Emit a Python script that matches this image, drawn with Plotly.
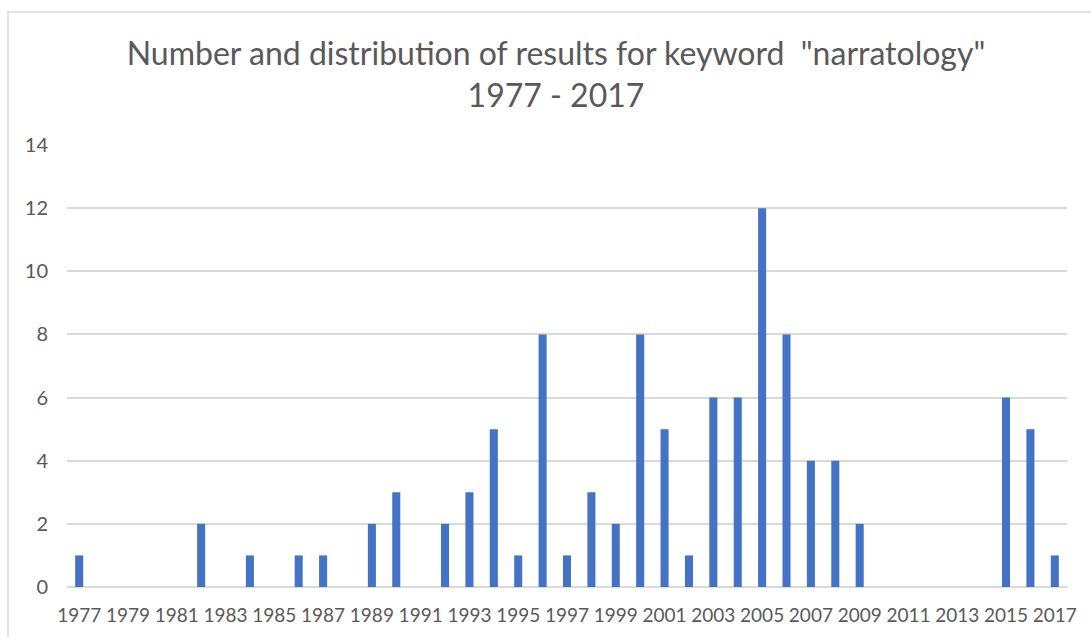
import plotly.graph_objects as go

# Yearly result counts for the keyword "narratology"
years = list(range(1977, 2018))
counts = [
    1, 0, 0, 0, 0, 2, 0, 1, 0, 1,   # 1977-1986
    1, 0, 2, 3, 0, 2, 3, 5, 1, 8,   # 1987-1996
    1, 3, 2, 8, 5, 1, 6, 6, 12, 8,  # 1997-2006
    4, 4, 2, 0, 0, 0, 0, 0, 6, 5,   # 2007-2016
    1,                              # 2017
]
tick_years = list(range(1977, 2018, 2))
y_ticks = list(range(0, 15, 2))

title_text = 'Number and distribution of results for keyword  "narratology"<br>1977 - 2017'

W, H = 1091, 637
ML, MR, MT, MB = 67, 24, 145, 50
plot_w = W - ML - MR
plot_h = H - MT - MB

font_family = "Lato, 'DejaVu Sans', sans-serif"
text_color = "#595959"
grid_color = "#D9D9D9"

fig = go.Figure(
    go.Bar(
        x=years,
        y=counts,
        marker=dict(color="#4472C4", line=dict(width=0)),
        hoverinfo="x+y",
    )
)

# Light-grey frame around the chart area
fig.add_shape(
    type="rect",
    xref="paper", yref="paper",
    x0=(8 - ML) / plot_w, x1=(W + 10 - ML) / plot_w,
    y0=(H - MB - (H + 10)) / plot_h, y1=(H - MB - 12) / plot_h,
    line=dict(color=grid_color, width=1.5),
    fillcolor="rgba(0,0,0,0)",
    layer="below",
)

fig.update_layout(
    width=W,
    height=H,
    margin=dict(l=ML, r=MR, t=MT, b=MB, autoexpand=False),
    paper_bgcolor="white",
    plot_bgcolor="white",
    bargap=0.67,
    showlegend=False,
    font=dict(family=font_family, color=text_color),
    title=dict(
        text=title_text,
        x=556 / W,
        xanchor="center",
        y=1 - 65 / H,
        yanchor="middle",
        xref="container",
        yref="container",
        font=dict(size=32, color=text_color, family=font_family),
    ),
    xaxis=dict(
        range=[1976.5, 2017.5],
        tickmode="array",
        tickvals=tick_years,
        ticktext=[str(y) for y in tick_years],
        tickangle=0,
        showgrid=False,
        zeroline=False,
        showline=False,
        ticks="",
        tickfont=dict(size=19, color=text_color),
        ticklabelstandoff=15,
        fixedrange=True,
    ),
    yaxis=dict(
        range=[0, 14],
        tickmode="array",
        tickvals=y_ticks,
        showgrid=True,
        gridcolor=grid_color,
        gridwidth=1.5,
        zeroline=True,
        zerolinecolor=grid_color,
        zerolinewidth=1.5,
        showline=False,
        ticks="",
        tickfont=dict(size=20, color=text_color),
        ticklabelstandoff=18,
        fixedrange=True,
    ),
)

fig.write_html("out.html")
